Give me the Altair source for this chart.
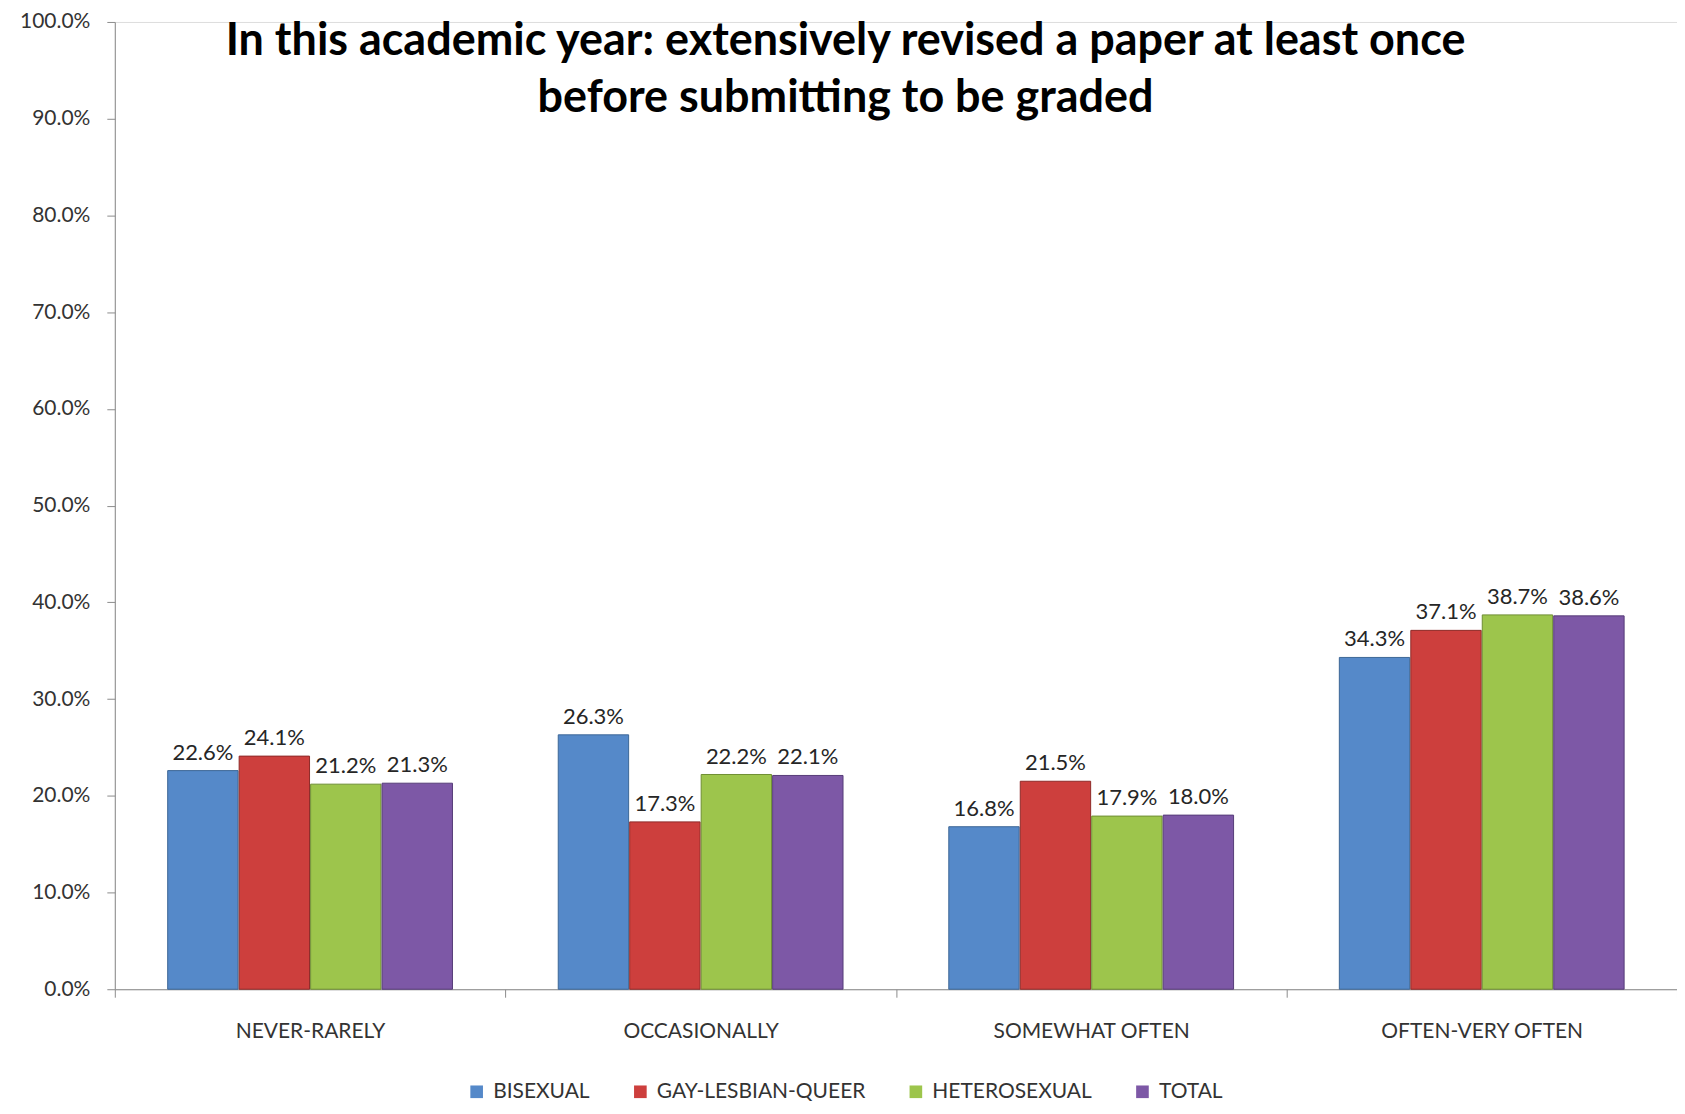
import altair as alt
import pandas as pd

categories = ["NEVER-RARELY", "OCCASIONALLY", "SOMEWHAT OFTEN", "OFTEN-VERY OFTEN"]
series = ["BISEXUAL", "GAY-LESBIAN-QUEER", "HETEROSEXUAL", "TOTAL"]
bisexual = [0.226, 0.263, 0.168, 0.343]
gay_lesbian_queer = [0.241, 0.173, 0.215, 0.371]
heterosexual = [0.212, 0.222, 0.179, 0.387]
total = [0.213, 0.221, 0.180, 0.386]
y_ticks = [0.0, 0.1, 0.2, 0.3, 0.4, 0.5, 0.6, 0.7, 0.8, 0.9, 1.0]
title_lines = ["In this academic year: extensively revised a paper at least once",
               "before submitting to be graded"]

colors = ["#5589C9", "#CD3F3D", "#9DC54C", "#7D58A6"]
strokes = ["#3C6696", "#8E2A28", "#6E8E32", "#563C78"]

rows = []
for s, vals in zip(series, [bisexual, gay_lesbian_queer, heterosexual, total]):
    for c, v in zip(categories, vals):
        rows.append({"category": c, "series": s, "value": v})
df = pd.DataFrame(rows)

W, H = 1565, 969
FONT = "Lato"

x = alt.X("category:N", sort=categories,
          scale=alt.Scale(paddingInner=0, paddingOuter=0),
          axis=alt.Axis(title=None, labelAngle=0, labelFontSize=21, labelFont=FONT,
                        labelColor="#333333", labelPadding=23, labelLimit=0,
                        tickSize=8, tickColor="#8c8c8c", domainColor="#8c8c8c",
                        tickBand="extent"))
xo = alt.XOffset("series:N", sort=series,
                 scale=alt.Scale(paddingInner=0.015, paddingOuter=0.74))
y = alt.Y("value:Q", scale=alt.Scale(domain=[0, 1]),
          axis=alt.Axis(title=None, values=y_ticks, format=".1%", grid=False,
                        labelFontSize=21, labelFont=FONT, labelColor="#333333",
                        labelPadding=17, tickSize=8, tickColor="#8c8c8c",
                        domainColor="#8c8c8c"))

bars = alt.Chart(df).mark_bar(strokeWidth=1).encode(
    x=x, xOffset=xo, y=y,
    color=alt.Color("series:N", sort=series,
                    scale=alt.Scale(domain=series, range=colors),
                    legend=alt.Legend(title=None, orient="none", direction="horizontal",
                                      legendX=352, legendY=1061, symbolType="square",
                                      symbolSize=160, symbolStrokeWidth=0,
                                      labelFontSize=21, labelFont=FONT, labelLimit=0,
                                      labelColor="#333333", columnPadding=40,
                                      labelOffset=6)),
    stroke=alt.Stroke("series:N", sort=series,
                      scale=alt.Scale(domain=series, range=strokes), legend=None),
)

labels = alt.Chart(df).mark_text(baseline="bottom", dy=-6, fontSize=22, font=FONT,
                                 color="#262626").encode(
    x=alt.X("category:N", sort=categories), xOffset=alt.XOffset("series:N", sort=series),
    y="value:Q", text=alt.Text("value:Q", format=".1%"))

title = alt.Chart(pd.DataFrame({"t": [0]})).mark_text(
    text=title_lines, fontSize=45, font=FONT, fontWeight="bold", color="#000000",
    align="center", baseline="middle", lineHeight=57).encode(
    x=alt.value(732), y=alt.value(19))

chart = alt.layer(bars, labels, title).properties(
    width=W, height=H,
    autosize=alt.AutoSizeParams(type="none"),
    padding={"left": 107, "top": 13, "right": 0, "bottom": 116},
).configure_view(stroke=None).configure(background="white")

chart.save("out.html", embed_options={"renderer": "svg", "actions": False})
